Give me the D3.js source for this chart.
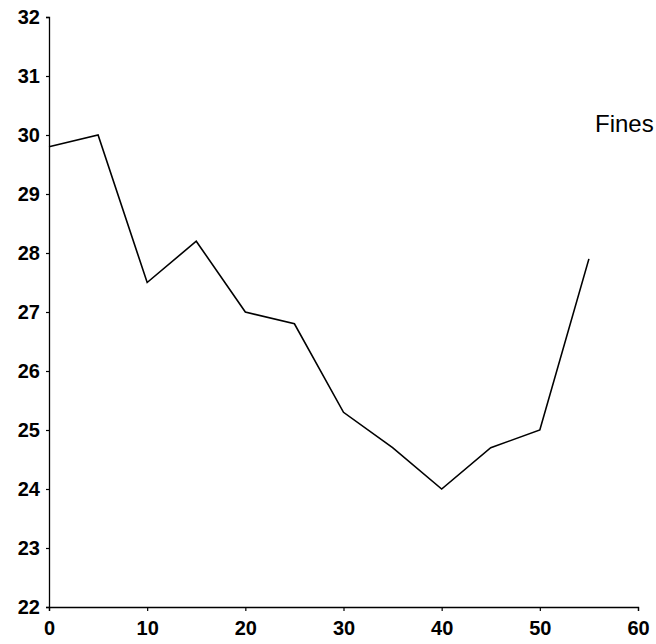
<!DOCTYPE html>
<html>
<head>
<meta charset="utf-8">
<script src="https://cdn.jsdelivr.net/npm/d3@7"></script>
<style>
  html, body { margin: 0; padding: 0; background: #fff; }
  svg { display: block; }
</style>
</head>
<body>
<svg id="chart" width="656" height="644"></svg>
<script>
const xValues = [0, 5, 10, 15, 20, 25, 30, 35, 40, 45, 50, 55];
const finesValues = [29.8, 30.0, 27.5, 28.2, 27.0, 26.8, 25.3, 24.7, 24.0, 24.7, 25.0, 27.9];
const xTicks = [0, 10, 20, 30, 40, 50, 60];
const yTicks = [22, 23, 24, 25, 26, 27, 28, 29, 30, 31, 32];
const seriesLabel = "Fines";

const svg = d3.select("#chart");
const x = d3.scaleLinear().domain([0, 60]).range([49, 638]);
const y = d3.scaleLinear().domain([22, 32]).range([607, 17]);

const font = "'Liberation Sans', Arial, sans-serif";

const xAxis = svg.append("g")
  .attr("transform", `translate(0,${y(22)})`)
  .call(d3.axisBottom(x).tickValues(xTicks).tickSize(4).tickSizeOuter(4).tickPadding(10));
const yAxis = svg.append("g")
  .attr("transform", `translate(${x(0)},0)`)
  .call(d3.axisLeft(y).tickValues(yTicks).tickSize(3).tickSizeOuter(3).tickPadding(6));

[xAxis, yAxis].forEach(g => {
  g.selectAll("path.domain").attr("stroke", "#000").attr("stroke-width", 1.3);
  g.selectAll(".tick line").attr("stroke", "#000").attr("stroke-width", 1.2);
  g.selectAll(".tick text")
    .attr("fill", "#000")
    .style("font-family", font)
    .style("font-size", "20px")
    .style("font-weight", "bold");
});

const line = d3.line().x((d, i) => x(xValues[i])).y(d => y(d));
svg.append("path")
  .datum(finesValues)
  .attr("d", line)
  .attr("fill", "none")
  .attr("stroke", "#000")
  .attr("stroke-width", 1.6)
  .attr("stroke-linejoin", "miter");

svg.append("text")
  .attr("x", 595)
  .attr("y", 132)
  .attr("fill", "#000")
  .style("font-family", font)
  .style("font-size", "24px")
  .text(seriesLabel);
</script>
</body>
</html>
